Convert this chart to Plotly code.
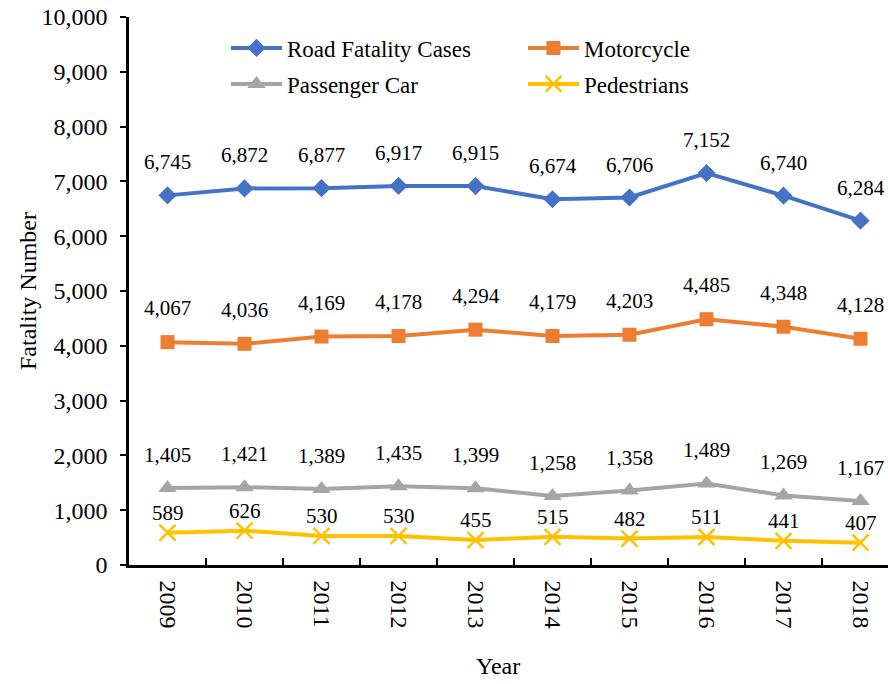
import plotly.graph_objects as go

years = ["2009", "2010", "2011", "2012", "2013", "2014", "2015", "2016", "2017", "2018"]
road = [6745, 6872, 6877, 6917, 6915, 6674, 6706, 7152, 6740, 6284]
motorcycle = [4067, 4036, 4169, 4178, 4294, 4179, 4203, 4485, 4348, 4128]
passenger = [1405, 1421, 1389, 1435, 1399, 1258, 1358, 1489, 1269, 1167]
pedestrians = [589, 626, 530, 530, 455, 515, 482, 511, 441, 407]

FONT = "Liberation Serif, Times New Roman, serif"
W, H = 888, 684
L, R, T = 129, 0, 17
PH = 548
B = H - T - PH
PW = W - L - R

series = [
    ("Road Fatality Cases", road, "#4472C4", dict(symbol="diamond", size=14), 33, "legend"),
    ("Motorcycle", motorcycle, "#ED7D31", dict(symbol="square", size=14), 34, "legend"),
    ("Passenger Car", passenger, "#A5A5A5", dict(symbol="triangle-up", size=16), 33, "legend2"),
    ("Pedestrians", pedestrians, "#FFC000", dict(symbol="x-thin", size=16, line=dict(width=2.5, color="#FFC000")), 20, "legend2"),
]

fig = go.Figure()
for name, vals, color, mk, shift, lg in series:
    fig.add_trace(go.Scatter(
        x=years, y=vals, name=name, mode="lines+markers",
        line=dict(color=color, width=4),
        marker=dict(color=color, **mk),
        legend=lg,
    ))
    for i, yv in enumerate(vals):
        fig.add_annotation(x=i, y=yv, text=f"{yv:,}", showarrow=False,
                           yshift=shift, font=dict(family=FONT, size=21, color="black"))

# convert pixel positions to paper coordinates
def px_x(p):
    return (p - L) / PW

def px_y(p):
    return (T + PH - p) / PH

fig.add_annotation(x=px_x(498), xref="paper", y=px_y(666), yref="paper", text="Year",
                   showarrow=False, font=dict(family=FONT, size=24, color="black"),
                   xanchor="center", yanchor="middle")
fig.add_annotation(x=px_x(28), xref="paper", y=px_y(291), yref="paper", text="Fatality Number",
                   showarrow=False, textangle=-90, font=dict(family=FONT, size=24, color="black"),
                   xanchor="center", yanchor="middle")

legend_common = dict(orientation="h", xanchor="left", yanchor="middle", entrywidth=231,
                     itemwidth=51, font=dict(family=FONT, size=23), bgcolor="rgba(0,0,0,0)")

fig.update_layout(
    width=W, height=H,
    margin=dict(l=L, r=R, t=T, b=B),
    plot_bgcolor="white", paper_bgcolor="white",
    font=dict(family=FONT, size=24, color="black"),
    legend=dict(x=px_x(226), y=px_y(48), **legend_common),
    legend2=dict(x=px_x(226), y=px_y(84), **legend_common),
    xaxis=dict(type="category", range=[-0.5, 9.357], showline=True, linecolor="black", linewidth=2.5,
               ticks="inside", tickson="boundaries", ticklen=7, tickwidth=2, tickcolor="black",
               tickangle=90, showgrid=False, zeroline=False, automargin=False,
               ticklabelstandoff=8, ticklabeloverflow="allow", tickfont=dict(family=FONT, size=24)),
    yaxis=dict(range=[0, 10000], dtick=1000, tickformat=",", showline=True, linecolor="black",
               linewidth=2.5, ticks="outside", ticklen=6, tickwidth=2, tickcolor="black",
               showgrid=False, zeroline=False, automargin=False, ticklabelstandoff=8,
               ticklabeloverflow="allow", tickfont=dict(family=FONT, size=24)),
)
fig.write_html("out.html", config={"displayModeBar": False},
               post_script="document.body.style.margin='0';document.body.style.overflow='hidden';")
